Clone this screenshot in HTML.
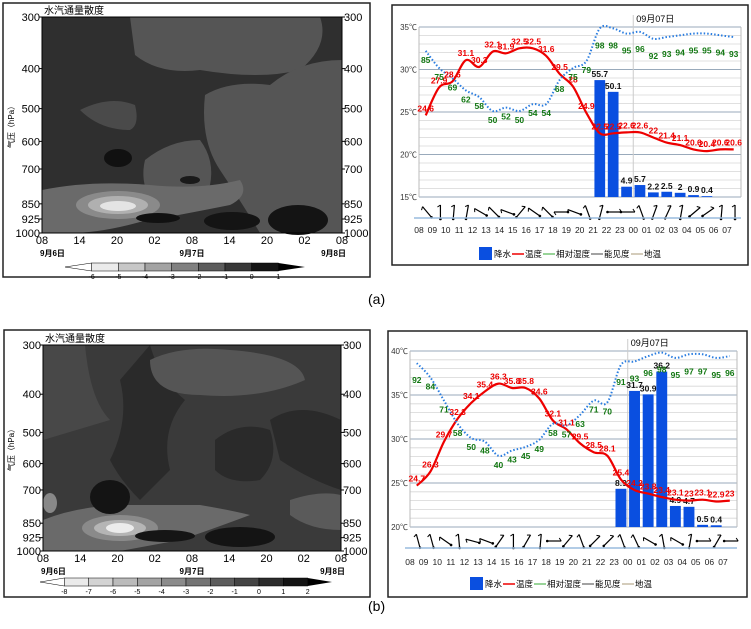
<!DOCTYPE html>
<html><head><meta charset="utf-8">
<style>
body{margin:0;background:#fff;width:751px;height:629px;overflow:hidden;font-family:"Liberation Sans","Noto Sans CJK SC",sans-serif;}
svg{position:absolute;left:0;top:0}
</style></head>
<body>
<svg id="s" width="751" height="629" font-family="Liberation Sans, Noto Sans CJK SC, sans-serif">
<g>
<rect x="3" y="3" width="367" height="274" fill="#fff" stroke="#222" stroke-width="1.5"/>
<rect x="42" y="17" width="300" height="216" fill="#2f2f2f"/>
<path d="M130,17 L320,17 Q330,45 300,70 Q260,80 200,70 Q160,75 135,55 Z" fill="#555"/>
<path d="M205,95 Q230,80 270,85 Q300,60 342,60 L342,233 L260,233 Q240,200 220,170 Q200,140 205,95Z" fill="#555"/>
<path d="M145,160 Q170,140 200,140 Q215,160 210,185 Q180,215 150,200 Q140,180 145,160Z" fill="#555"/>
<path d="M80,110 Q110,95 135,105 Q140,125 130,130 Q100,130 80,110Z" fill="#4a4a4a"/>
<path d="M42,190 Q90,180 150,185 Q200,190 240,180 Q250,195 230,205 Q180,215 140,222 Q100,233 70,233 L42,233Z" fill="#6a6a6a"/>
<ellipse cx="118" cy="205" rx="42" ry="14" fill="#8a8a8a"/>
<ellipse cx="118" cy="205" rx="30" ry="9" fill="#b0b0b0"/>
<ellipse cx="118" cy="206" rx="18" ry="5" fill="#e4e4e4"/>
<ellipse cx="118" cy="158" rx="14" ry="9" fill="#111"/>
<ellipse cx="158" cy="218" rx="22" ry="5" fill="#111"/>
<ellipse cx="298" cy="220" rx="30" ry="15" fill="#141414"/>
<ellipse cx="232" cy="221" rx="28" ry="9" fill="#141414"/>
<ellipse cx="190" cy="180" rx="10" ry="4" fill="#1a1a1a"/>
</g>
<g>
<rect x="4" y="330" width="366" height="267" fill="#fff" stroke="#222" stroke-width="1.5"/>
<rect x="43" y="345" width="298" height="206" fill="#3a3a3a"/>
<path d="M43,345 L85,345 Q90,400 110,420 L43,440Z" fill="#484848"/>
<path d="M150,345 Q160,380 185,400 Q160,430 170,470 L140,500 Q120,480 110,460 Q130,420 120,380Z" fill="#2a2a2a"/>
<path d="M150,360 Q180,345 230,350 Q300,355 305,380 Q260,400 200,395 Q150,395 150,360Z" fill="#555"/>
<path d="M215,440 Q240,420 270,430 Q280,460 260,480 Q230,485 215,470Z" fill="#2a2a2a"/>
<path d="M270,420 Q300,400 341,420 L341,490 Q310,480 280,460Z" fill="#2a2a2a"/>
<path d="M290,500 Q320,490 341,495 L341,530 Q310,530 290,515Z" fill="#5a5a5a"/>
<path d="M43,520 Q80,505 130,505 Q170,505 200,505 Q230,510 250,515 Q210,530 180,540 L120,551 L43,551Z" fill="#6a6a6a"/>
<ellipse cx="120" cy="528" rx="38" ry="13" fill="#8a8a8a"/>
<ellipse cx="120" cy="528" rx="26" ry="8" fill="#b5b5b5"/>
<ellipse cx="120" cy="528" rx="14" ry="5" fill="#ececec"/>
<ellipse cx="110" cy="497" rx="20" ry="17" fill="#141414"/>
<ellipse cx="165" cy="536" rx="30" ry="6" fill="#151515"/>
<ellipse cx="240" cy="537" rx="35" ry="10" fill="#141414"/>
<ellipse cx="50" cy="503" rx="7" ry="10" fill="#888"/>
</g>
<g id="leftaxes"></g>
<g id="chartA"></g>
<g id="chartB"></g>
<text x="368" y="304" font-size="14">(a)</text>
<text x="368" y="611" font-size="14">(b)</text>
</svg>
<script>
const hours = ["08","09","10","11","12","13","14","15","16","17","18","19","20","21","22","23","00","01","02","03","04","05","06","07"];
const aTemp = [24.6,27.9,28.6,31.1,30.3,32.1,31.9,32.5,32.5,31.6,29.5,28,24.9,22.5,22.5,22.6,22.6,22,21.4,21.1,20.6,20.4,20.6,20.6];
const aRH = [85,75,69,62,58,50,52,50,54,54,68,75,79,98,98,95,96,92,93,94,95,95,94,93];
const aPrecip = [0,0,0,0,0,0,0,0,0,0,0,0,0,55.7,50.1,4.9,5.7,2.2,2.5,2,0.9,0.4,0,0];
const aWind = [-40,0,5,10,-60,-45,-70,40,-55,-45,-90,-70,-20,15,90,90,-20,20,25,10,50,55,5,0];
const aTempTicks = [15,20,25,30,35];
const bTemp = [24.7,26.3,29.7,32.3,34.1,35.4,36.3,35.8,35.8,34.6,32.1,31.1,29.5,28.5,28.1,25.4,24.2,23.8,23.4,23.1,23,23.1,22.9,23];
const bRH = [92,84,71,58,50,48,40,43,45,49,58,57,63,71,70,91,93,96,98,95,97,97,95,96];
const bPrecip = [0,0,0,0,0,0,0,0,0,0,0,0,0,0,0,8.9,31.7,30.9,36.2,4.9,4.7,0.5,0.4,0];
const bWind = [-15,-15,-55,-5,-75,-70,35,0,30,5,90,40,-20,45,45,-20,-25,-60,-10,-60,10,90,30,90];
const bTempTicks = [20,25,30,35,40];
const pLevels = [300,400,500,600,700,850,925,1000];
const tLabels = ["08","14","20","02","08","14","20","02","08"];
const cbA = [-6,-5,-4,-3,-2,-1,0,1];
const cbB = [-8,-7,-6,-5,-4,-3,-2,-1,0,1,2];

const NS="http://www.w3.org/2000/svg";
function mk(p,t,a,txt){const e=document.createElementNS(NS,t);for(const k in a)e.setAttribute(k,a[k]);if(txt!==undefined)e.textContent=txt;p.appendChild(e);return e;}
function smooth(pts){
  let d='M'+pts[0][0].toFixed(1)+','+pts[0][1].toFixed(1);
  for(let i=0;i<pts.length-1;i++){
    const p0=pts[Math.max(0,i-1)],p1=pts[i],p2=pts[i+1],p3=pts[Math.min(pts.length-1,i+2)];
    const c1=[p1[0]+(p2[0]-p0[0])/6,p1[1]+(p2[1]-p0[1])/6];
    const c2=[p2[0]-(p3[0]-p1[0])/6,p2[1]-(p3[1]-p1[1])/6];
    d+=`C${c1[0].toFixed(1)},${c1[1].toFixed(1)} ${c2[0].toFixed(1)},${c2[1].toFixed(1)} ${p2[0].toFixed(1)},${p2[1].toFixed(1)}`;
  }
  return d;
}

function leftAxes(g,L){
  const pY=p=>L.y0+(Math.log(p/300)/Math.log(1000/300))*(L.y1-L.y0);
  mk(g,'rect',{x:L.x0,y:L.y0,width:L.x1-L.x0,height:L.y1-L.y0,fill:'none',stroke:'#000'});
  const t=mk(g,'text',{x:L.x0+2,y:L.y0-3,'font-size':10},'水汽通量散度');
  
  
  const yl=mk(g,'text',{x:0,y:0,'font-size':8,transform:`translate(14,${(L.y0+L.y1)/2}) rotate(-90)`,'text-anchor':'middle'},'气压（hPa）');
  
  
  pLevels.forEach(p=>{
    const y=pY(p);
    const a=mk(g,'text',{x:L.x0-2,y:y+4,'font-size':11,'text-anchor':'end'},p);
    
    
    const b=mk(g,'text',{x:L.x1+2,y:y+4,'font-size':11},p);
    
    
    mk(g,'line',{x1:L.x0-3,x2:L.x0,y1:y,y2:y,stroke:'#000'});
    mk(g,'line',{x1:L.x1,x2:L.x1+3,y1:y,y2:y,stroke:'#000'});
  });
  tLabels.forEach((s,i)=>{
    const x=L.x0+i*(L.x1-L.x0)/8;
    const a=mk(g,'text',{x:x,y:L.y1+11,'font-size':11,'text-anchor':'middle'},s);
    
    
  });
  [["9月6日",L.x0-2,'start'],["9月7日",(L.x0+L.x1)/2,'middle'],["9月8日",L.x1+4,'end']].forEach(d=>{
    const a=mk(g,'text',{x:d[1],y:L.y1+23,'font-size':8,'font-weight':'bold','text-anchor':d[2]},d[0]);
    
    
  });
  const n=L.cb.length+1, w=(L.cbx1-L.cbx0)/n, cy=L.cby;
  mk(g,'polygon',{points:`${L.cbx0},${cy} ${L.cbx0+w},${cy-4} ${L.cbx0+w},${cy+4}`,fill:'#fff',stroke:'#000','stroke-width':0.5});
  for(let i=1;i<n-1;i++){
    const c=Math.round(235-(i-1)*(215/(n-3)));
    const r=mk(g,'rect',{x:L.cbx0+i*w,y:cy-4,width:w,height:8,fill:`rgb(${c},${c},${c})`,stroke:'#000','stroke-width':0.5});
    
    
  }
  mk(g,'polygon',{points:`${L.cbx0+(n-1)*w},${cy-4} ${L.cbx1},${cy} ${L.cbx0+(n-1)*w},${cy+4}`,fill:'#000'});
  L.cb.forEach((v,i)=>{
    const a=mk(g,'text',{x:L.cbx0+(i+1)*w,y:cy+12,'font-size':7,'text-anchor':'middle'},v);
    
    
  });
}
const la=document.getElementById('leftaxes');
leftAxes(la,{x0:42,x1:342,y0:17,y1:233,cb:cbA,cbx0:65,cbx1:305,cby:267});
leftAxes(la,{x0:43,x1:341,y0:345,y1:551,cb:cbB,cbx0:40,cbx1:332,cby:582});

function chart(g,C,temp,rh,pr,wind,ticks){
  const dx=(C.x7-C.x8)/23;
  const X=i=>C.x8+(i+0.5)*dx;
  const yT=v=>C.yb-(v-ticks[0])/(ticks[ticks.length-1]-ticks[0])*(C.yb-C.yt);
  const yR=v=>C.yb-v/100*(C.yb-C.yt+2);
  const yP=v=>C.yb-v/C.pmax*(C.yb-C.yt);
  mk(g,'rect',{x:C.bx,y:C.by,width:C.bw,height:C.bh,fill:'#fff',stroke:'#222','stroke-width':1.5});
  for(let v=ticks[0];v<=ticks[ticks.length-1];v+=1){
    mk(g,'line',{x1:C.xl,x2:C.xr,y1:yT(v),y2:yT(v),stroke:v%5==0?'#9ab':'#d6d6d6','stroke-width':v%5==0?1:0.8});
  }
  mk(g,'line',{x1:C.xl,x2:C.xl,y1:C.yt,y2:C.yb,stroke:'#bbb'});
  mk(g,'line',{x1:C.xr,x2:C.xr,y1:C.yt,y2:C.yb,stroke:'#bbb'});
  const x00=C.x8+16*dx;
  mk(g,'line',{x1:x00,x2:x00,y1:C.yt-12,y2:C.yb,stroke:'#ccc'});
  const dl=mk(g,'text',{x:x00+3,y:C.yt-5,'font-size':9},'09月07日');
  
  
  ticks.forEach(v=>{
    const t=mk(g,'text',{x:C.xl-2,y:yT(v)+3,'font-size':8,'text-anchor':'end',fill:'#333'},v+'℃');
    
    
  });
  pr.forEach((v,i)=>{
    if(v<=0)return;
    const b=mk(g,'rect',{x:X(i)-dx*0.4,y:yP(v),width:dx*0.8,height:C.yb-yP(v),fill:'#0a4fe0'});
    
    
    const t=mk(g,'text',{x:X(i),y:yP(v)-3,'font-size':8.5,'font-weight':'bold','text-anchor':'middle',fill:'#111'},v);
    
    
  });
  const tl=mk(g,'path',{d:smooth(temp.map((v,i)=>[X(i),yT(v)])),fill:'none',stroke:'#e00','stroke-width':2.2,'stroke-linejoin':'round'});
  
  
  const rl=mk(g,'path',{d:smooth(rh.map((v,i)=>[X(i),yR(v)])),fill:'none',stroke:'#2a7de0','stroke-width':2,'stroke-dasharray':'1.5,2'});
  
  
  temp.forEach((v,i)=>{
    const t=mk(g,'text',{x:X(i),y:yT(v)-4,'font-size':8.5,'font-weight':'bold','text-anchor':'middle',fill:'#e00'},v);
    
    
  });
  rh.forEach((v,i)=>{
    const t=mk(g,'text',{x:X(i),y:yR(v)+(v>90?20:12),'font-size':8.5,'font-weight':'bold','text-anchor':'middle',fill:'#171'},v);
    
    
  });
  wind.forEach((a,i)=>{
    const x=C.x8+i*dx+dx*0.6, y=C.wy;
    const w=mk(g,'g',{transform:`translate(${x},${y}) rotate(${a})`});
    
    
    mk(w,'line',{x1:0,y1:-7,x2:0,y2:7,stroke:'#000','stroke-width':1.2});
    mk(w,'line',{x1:0,y1:-7,x2:-3,y2:-5,stroke:'#000','stroke-width':1});
    mk(w,'circle',{cx:0,cy:7,r:1.3,fill:'#000'});
  });
  mk(g,'line',{x1:C.xl-5,x2:C.xr,y1:C.sep,y2:C.sep,stroke:'#9bd','stroke-width':1.5});
  hours.forEach((h,i)=>{
    const t=mk(g,'text',{x:C.x8+i*dx,y:C.hy,'font-size':8.5,'text-anchor':'middle',fill:'#222'},h);
    
    
  });
  const lg=mk(g,'g',{transform:`translate(${C.lgx},${C.lgy})`});
  
  
  mk(lg,'rect',{x:0,y:-7,width:13,height:13,fill:'#0a4fe0'});
  mk(lg,'text',{x:15,y:3,'font-size':8.5},'降水');
  mk(lg,'line',{x1:33,x2:45,y1:0,y2:0,stroke:'#e00','stroke-width':1.5});
  mk(lg,'text',{x:46,y:3,'font-size':8.5},'温度');
  mk(lg,'line',{x1:64,x2:76,y1:0,y2:0,stroke:'#3a3','stroke-width':1});
  mk(lg,'text',{x:77,y:3,'font-size':8.5},'相对湿度');
  mk(lg,'line',{x1:112,x2:124,y1:0,y2:0,stroke:'#444','stroke-width':1});
  mk(lg,'text',{x:125,y:3,'font-size':8.5},'能见度');
  mk(lg,'line',{x1:152,x2:164,y1:0,y2:0,stroke:'#a97','stroke-width':1});
  mk(lg,'text',{x:165,y:3,'font-size':8.5},'地温');
}
chart(document.getElementById('chartA'),{bx:392,by:5,bw:356,bh:260,xl:419,xr:741,yt:27,yb:197,x8:419,x7:727,pmax:81,wy:212,sep:218,hy:233,lgx:479,lgy:254},aTemp,aRH,aPrecip,aWind,aTempTicks);
chart(document.getElementById('chartB'),{bx:388,by:331,bw:359,bh:266,xl:410,xr:737,yt:351,yb:527,x8:410,x7:723,pmax:41,wy:541,sep:548,hy:565,lgx:470,lgy:584},bTemp,bRH,bPrecip,bWind,bTempTicks);
</script>
</body></html>
